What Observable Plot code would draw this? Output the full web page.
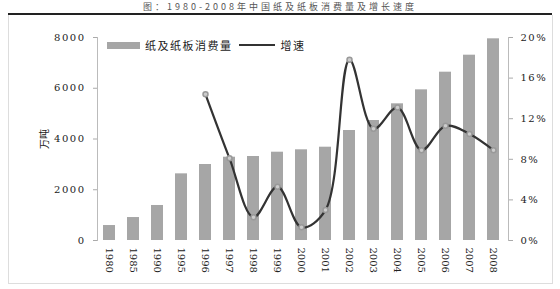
<!DOCTYPE html>
<html><head><meta charset="utf-8">
<script src="https://cdn.jsdelivr.net/npm/d3@7"></script>
<script src="https://cdn.jsdelivr.net/npm/@observablehq/plot@0.6"></script>
<style>
body{margin:0;background:#fff;overflow:hidden;}
#wrap{position:relative;width:560px;height:289px;overflow:hidden;background:#fff;}
#title{position:absolute;top:2px;left:0;width:560px;text-align:center;font:9px/10px "Noto Sans CJK SC";color:#555;letter-spacing:3px;}
#rule{position:absolute;top:13px;left:8px;width:544px;height:2px;background:#222;}
#box{position:absolute;top:15px;left:8px;width:543px;height:268px;border:1px solid #ddd;border-top:none;}
#chart{position:absolute;top:0;left:0;}
#legend{position:absolute;top:37px;left:107px;font:11px "Noto Sans CJK SC";color:#222;display:flex;align-items:center;letter-spacing:1.5px;}
#legend .sw{display:inline-block;width:33px;height:7px;background:#a6a6a6;margin-right:5px;}
#legend .ln{display:inline-block;width:36px;height:2px;background:#333;margin:0 6px 0 6px;}
svg g[aria-label="y-axis tick label"] text{letter-spacing:1.5px;}
svg g[aria-label="y-axis label"] text{font-family:"Noto Sans CJK SC";}
</style></head>
<body><div id="wrap">
<div id="title">图：1980-2008年中国纸及纸板消费量及增长速度</div>
<div id="rule"></div><div id="box"></div>
<div id="chart"></div>
<div id="legend"><span class="sw"></span><span>纸及纸板消费量</span><span class="ln"></span><span>增速</span></div>
</div>
<script>
const years = ["1980","1985","1990","1995","1996","1997","1998","1999","2000","2001","2002","2003","2004","2005","2006","2007","2008"];
const consumption = [590, 905, 1380, 2627, 2995, 3283, 3310, 3480, 3574, 3677, 4335, 4729, 5387, 5937, 6633, 7303, 7948];
const growthYears = ["1996","1997","1998","1999","2000","2001","2002","2003","2004","2005","2006","2007","2008"];
const growth = [14.4, 8.1, 2.3, 5.3, 1.3, 3.0, 17.8, 11.0, 13.1, 8.9, 11.3, 10.5, 8.9];
const leftTicks = [0, 2000, 4000, 6000, 8000];
const rightTicks = [0, 4, 8, 12, 16, 20];
const SCALE = 400; // 20% maps to 8000

const bars = years.map((y, i) => ({year: y, value: consumption[i]}));
const line = growthYears.map((y, i) => ({year: y, g: growth[i]}));

const chart = Plot.plot({
  width: 560, height: 289,
  marginTop: 37, marginBottom: 49, marginLeft: 97, marginRight: 52,
  x: {domain: years, paddingInner: 0.5, paddingOuter: 0.25, align: 0.4},
  y: {domain: [0, 8000]},
  style: {fontFamily: "DejaVu Serif", fontSize: "10px", color: "#222", background: "transparent"},
  marks: [
    Plot.barY(bars, {x: "year", y: "value", fill: "#a6a6a6"}),
    Plot.line(line, {x: "year", y: d => d.g * SCALE, stroke: "#333", strokeWidth: 2.2, curve: "catmull-rom"}),
    Plot.dot(line, {x: "year", y: d => d.g * SCALE, r: 2.5, fill: "#ccc", stroke: "#999"}),
    Plot.axisX({tickRotate: 90, tickSize: 0, tickPadding: 7, label: null}),
    Plot.axisY({ticks: leftTicks, anchor: "left", tickSize: 4, tickPadding: 8, tickFormat: d => String(d),
      label: "万吨", labelAnchor: "center", labelOffset: 57, labelArrow: "none", stroke: "#aaa"}),
    Plot.axisY({ticks: rightTicks.map(t => t * SCALE), anchor: "right", tickSize: 4, tickPadding: 8,
      tickFormat: d => (d / SCALE) + "%", label: null, stroke: "#aaa"}),
    Plot.frame({anchor: "left", stroke: "#bbb"}),
    Plot.frame({anchor: "right", stroke: "#bbb"})
  ]
});
document.getElementById("chart").appendChild(chart);
</script>
</body></html>
